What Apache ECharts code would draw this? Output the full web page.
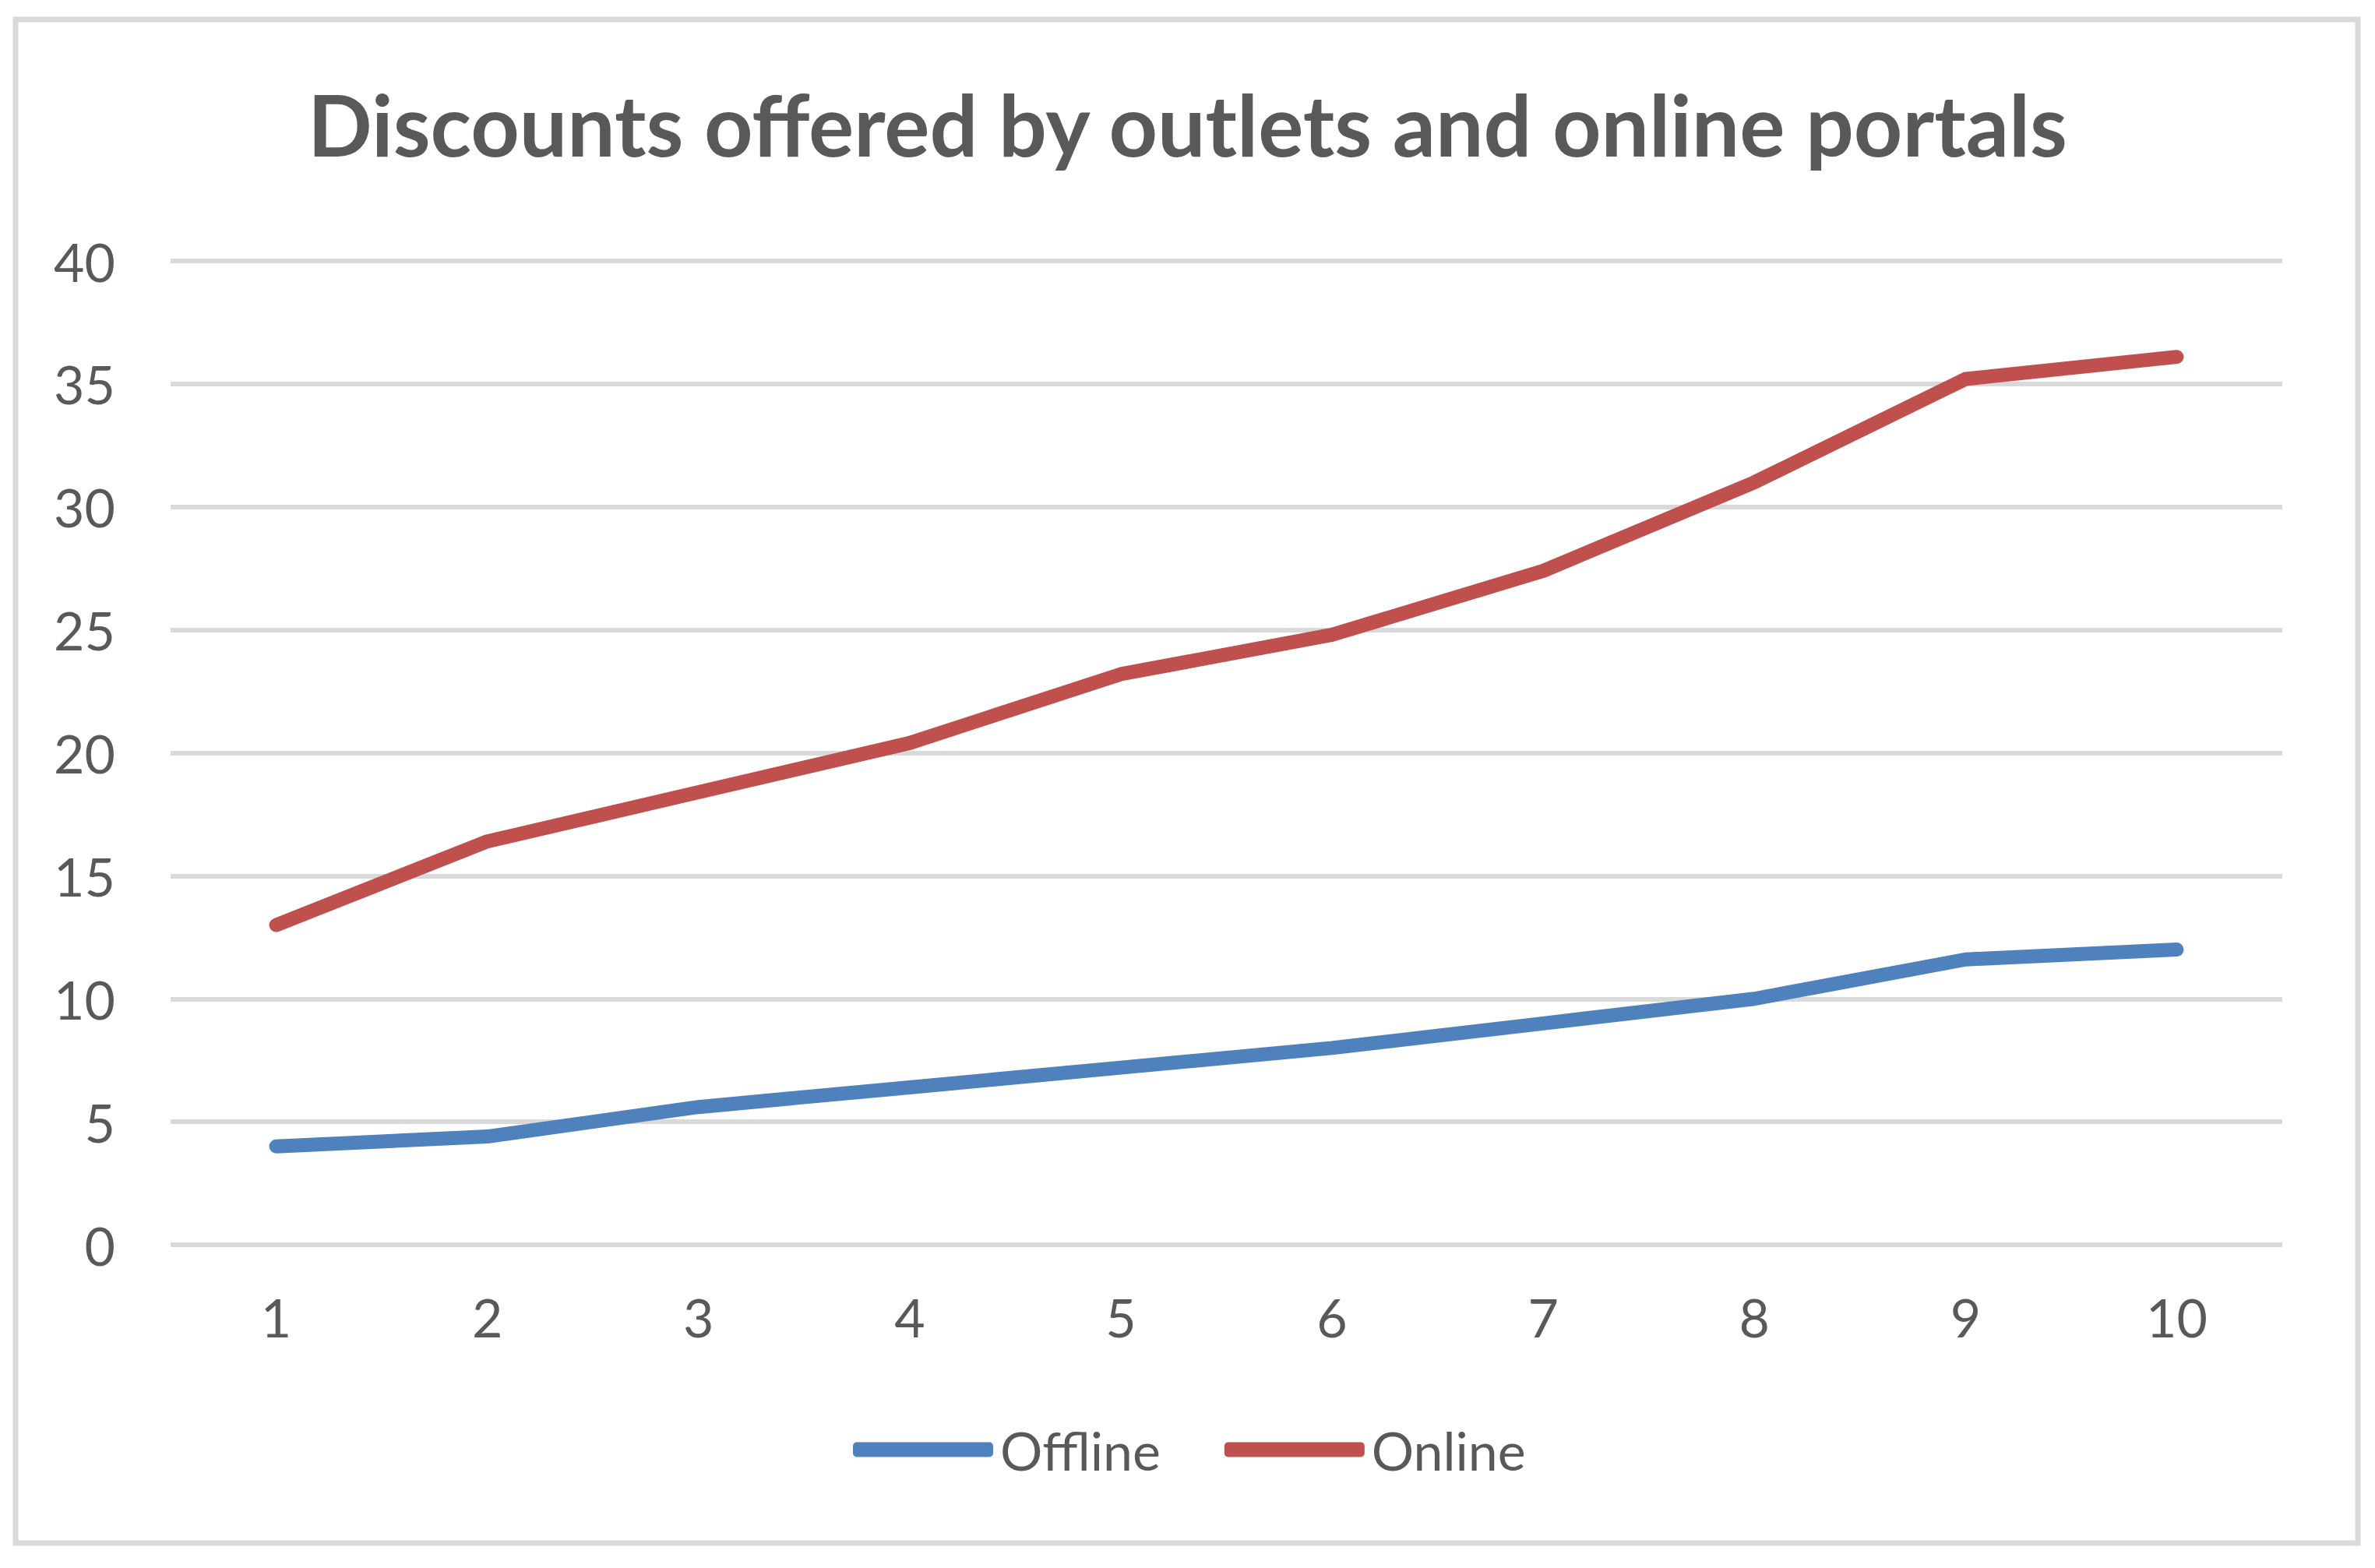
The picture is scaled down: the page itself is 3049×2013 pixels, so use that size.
<!DOCTYPE html>
<html>
<head>
<meta charset="utf-8">
<title>Discounts offered by outlets and online portals</title>
<script src="https://cdn.jsdelivr.net/npm/echarts@6/dist/echarts.min.js"></script>
<style>
    html, body { margin: 0; padding: 0; background: #fff; }
    #chart { width: 3049px; height: 2013px; }
</style>
</head>
<body>
<div id="chart"></div>
<script>
// Chart data
const categories = ['1', '2', '3', '4', '5', '6', '7', '8', '9', '10'];
const offlineValues = [4.0, 4.4, 5.6, 6.4, 7.2, 8.0, 9.0, 10.0, 11.6, 12.0];
const onlineValues = [13.0, 16.4, 18.4, 20.4, 23.2, 24.8, 27.4, 31.0, 35.2, 36.1];
const seriesNames = ['Offline', 'Online'];

// Office-style palette
const BLUE = '#4F81BD';
const RED = '#C0504D';
const GRID_GRAY = '#D9D9D9';
const TEXT_GRAY = '#595959';
const FONT = 'Lato, "Open Sans", sans-serif';

const chart = echarts.init(document.getElementById('chart'), null, { renderer: 'svg' });

const option = {
    backgroundColor: '#fff',
    animation: false,
    title: {
        text: 'Discounts offered by outlets and online portals',
        left: 'center',
        top: 99,
        textStyle: {
            fontFamily: FONT,
            fontSize: 109,
            fontWeight: 'bold',
            color: TEXT_GRAY
        }
    },
    // outer chart border
    graphic: [{
        type: 'rect',
        shape: { x: 20, y: 25, width: 3007, height: 1956 },
        style: { fill: 'none', stroke: GRID_GRAY, lineWidth: 7 },
        silent: true
    }],
    legend: {
        data: seriesNames,
        left: 1090,
        top: 1816,
        itemWidth: 180,
        itemHeight: 19,
        itemGap: 82,
        icon: 'roundRect',
        textStyle: {
            fontFamily: FONT,
            fontSize: 68,
            color: TEXT_GRAY,
            lineHeight: 80,
            padding: [0, 0, 0, 4]
        }
    },
    grid: {
        left: 219,
        right: 119,
        top: 335,
        bottom: 415,
        containLabel: false
    },
    xAxis: {
        type: 'category',
        data: categories,
        boundaryGap: true,
        axisLine: { show: false },
        axisTick: { show: false },
        axisLabel: {
            margin: 58,
            fontFamily: FONT,
            fontSize: 68,
            lineHeight: 68,
            color: TEXT_GRAY
        }
    },
    yAxis: {
        type: 'value',
        min: 0,
        max: 40,
        interval: 5,
        axisLine: { show: false },
        axisTick: { show: false },
        axisLabel: {
            margin: 71,
            fontFamily: FONT,
            fontSize: 68,
            color: TEXT_GRAY
        },
        splitLine: {
            lineStyle: { color: GRID_GRAY, width: 6 }
        }
    },
    series: [
        {
            name: seriesNames[0],
            type: 'line',
            data: offlineValues,
            symbol: 'none',
            color: BLUE,
            lineStyle: { color: BLUE, width: 18, cap: 'round', join: 'round' }
        },
        {
            name: seriesNames[1],
            type: 'line',
            data: onlineValues,
            symbol: 'none',
            color: RED,
            lineStyle: { color: RED, width: 18, cap: 'round', join: 'round' }
        }
    ]
};

chart.setOption(option);
</script>
</body>
</html>
